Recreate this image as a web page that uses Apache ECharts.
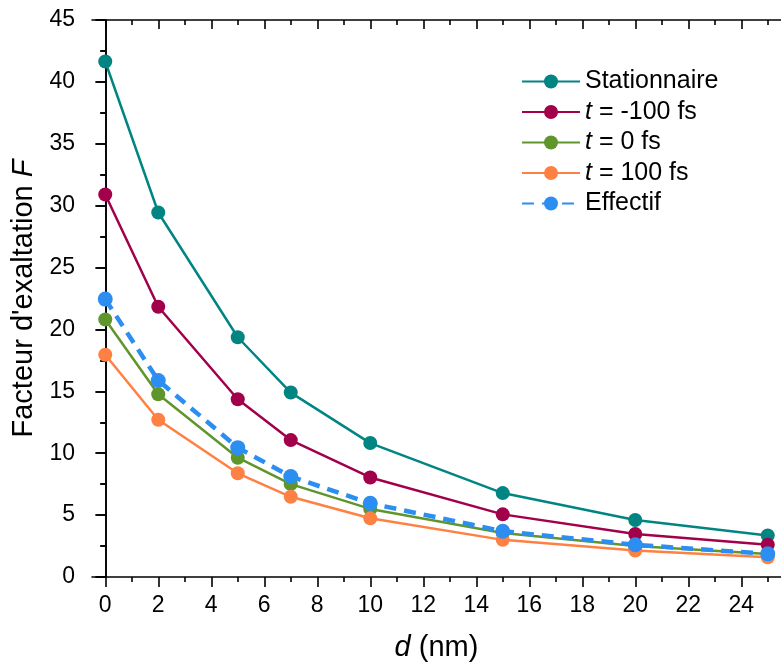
<!DOCTYPE html>
<html>
<head>
<meta charset="utf-8">
<script src="https://cdn.jsdelivr.net/npm/echarts@6/dist/echarts.min.js"></script>
<style>
html,body{margin:0;padding:0;background:#fff;}
#chart{width:781px;height:667px;}
</style>
</head>
<body>
<div id="chart"></div>
<script>
// ---- data ----
const dValues = [0, 2, 5, 7, 10, 15, 20, 25];
const stationnaire = [41.65, 29.45, 19.37, 14.9, 10.82, 6.78, 4.61, 3.35];
const tMinus100 = [30.9, 21.83, 14.36, 11.06, 8.04, 5.06, 3.48, 2.6];
const tZero = [20.8, 14.76, 9.64, 7.5, 5.5, 3.55, 2.5, 1.85];
const tPlus100 = [17.95, 12.7, 8.38, 6.48, 4.74, 3.0, 2.14, 1.6];
const effectif = [22.45, 15.88, 10.45, 8.12, 5.95, 3.7, 2.6, 1.87];
const seriesNames = ['Stationnaire', 't = -100 fs', 't = 0 fs', 't = 100 fs', 'Effectif'];
const xMajorTicks = [0, 2, 4, 6, 8, 10, 12, 14, 16, 18, 20, 22, 24];
const xMinorTicks = [1, 3, 5, 7, 9, 11, 13, 15, 17, 19, 21, 23, 25];

const FONT = '"Liberation Sans", Arial, sans-serif';
const colors = ['#008583', '#A2004A', '#5F962C', '#FF8043', '#2C8EF0'];

function pairs(vals) { return dValues.map((d, i) => [d, vals[i]]); }

const chart = echarts.init(document.getElementById('chart'), null, {renderer: 'canvas'});

const axisLine = {show: true, lineStyle: {color: '#000', width: 1.6}};
const tickStyle = {color: '#000', width: 1.6};

function lineSeries(name, vals, color, dashed) {
  return {
    name: name,
    type: 'line',
    xAxisIndex: 0,
    yAxisIndex: 0,
    data: pairs(vals),
    symbol: 'circle',
    symbolSize: dashed ? 15 : 14,
    lineStyle: dashed ? {color: color, width: 4.5, type: [12, 8]} : {color: color, width: 2.5},
    itemStyle: {color: color},
    emphasis: {disabled: true},
    animation: false
  };
}

const option = {
  animation: false,
  color: colors,
  grid: {left: 92, top: 20, width: 695.5, height: 560},
  legend: {
    orient: 'vertical',
    left: 516,
    top: 64,
    itemWidth: 58,
    itemHeight: 17.5,
    itemGap: 5.5,
    data: seriesNames,
    textStyle: {fontFamily: FONT, fontSize: 25, color: '#000',
      rich: {it: {fontFamily: FONT, fontSize: 25, fontStyle: 'italic', color: '#000'}}},
    formatter: function (name) {
      if (name.indexOf('t = ') === 0) return '{it|t}' + name.slice(1);
      return name;
    }
  },
  xAxis: [
    {
      type: 'value', position: 'bottom', min: -0.5, max: 25.5,
      axisLine: axisLine,
      axisTick: {show: true, inside: false, length: 10, lineStyle: tickStyle, customValues: xMajorTicks},
      axisLabel: {show: true, margin: 17, fontFamily: FONT, fontSize: 23, color: '#000', customValues: xMajorTicks},
      splitLine: {show: false},
      name: '{it|d} (nm)',
      nameLocation: 'middle',
      nameGap: 56,
      nameTextStyle: {fontFamily: FONT, fontSize: 29, color: '#000',
        rich: {it: {fontFamily: FONT, fontSize: 29, fontStyle: 'italic', color: '#000'}}}
    },
    {
      type: 'value', position: 'bottom', min: -0.5, max: 25.5,
      axisLine: {show: false},
      axisTick: {show: true, inside: false, length: 5, lineStyle: tickStyle, customValues: xMinorTicks},
      axisLabel: {show: false},
      splitLine: {show: false}
    },
    {
      type: 'value', position: 'top', min: -0.5, max: 25.5,
      axisLine: axisLine,
      axisTick: {show: true, inside: true, length: 9, lineStyle: tickStyle, customValues: xMajorTicks},
      axisLabel: {show: false},
      splitLine: {show: false}
    },
    {
      type: 'value', position: 'top', min: -0.5, max: 25.5,
      axisLine: {show: false},
      axisTick: {show: true, inside: true, length: 5, lineStyle: tickStyle, customValues: xMinorTicks},
      axisLabel: {show: false},
      splitLine: {show: false}
    }
  ],
  yAxis: [
    {
      type: 'value', position: 'left', min: 0, max: 45, interval: 5,
      axisLine: axisLine,
      axisTick: {show: true, inside: false, length: 10, lineStyle: tickStyle},
      minorTick: {show: true, splitNumber: 2, length: 5, lineStyle: tickStyle},
      axisLabel: {show: true, margin: 17, fontFamily: FONT, fontSize: 23, color: '#000'},
      splitLine: {show: false},
      minorSplitLine: {show: false},
      name: "Facteur d'exaltation {it|F}",
      nameLocation: 'middle',
      nameRotate: 90,
      nameGap: 50,
      nameTextStyle: {fontFamily: FONT, fontSize: 29, color: '#000',
        rich: {it: {fontFamily: FONT, fontSize: 29, fontStyle: 'italic', color: '#000'}}}
    },
    {
      type: 'value', position: 'right', min: 0, max: 45, interval: 5,
      axisLine: axisLine,
      axisTick: {show: true, inside: true, length: 9, lineStyle: tickStyle},
      minorTick: {show: true, splitNumber: 2, length: 5, lineStyle: tickStyle},
      axisLabel: {show: false},
      splitLine: {show: false}
    }
  ],
  series: [
    lineSeries(seriesNames[0], stationnaire, colors[0], false),
    lineSeries(seriesNames[1], tMinus100, colors[1], false),
    lineSeries(seriesNames[2], tZero, colors[2], false),
    lineSeries(seriesNames[3], tPlus100, colors[3], false),
    lineSeries(seriesNames[4], effectif, colors[4], true)
  ]
};

chart.setOption(option);
</script>
</body>
</html>
